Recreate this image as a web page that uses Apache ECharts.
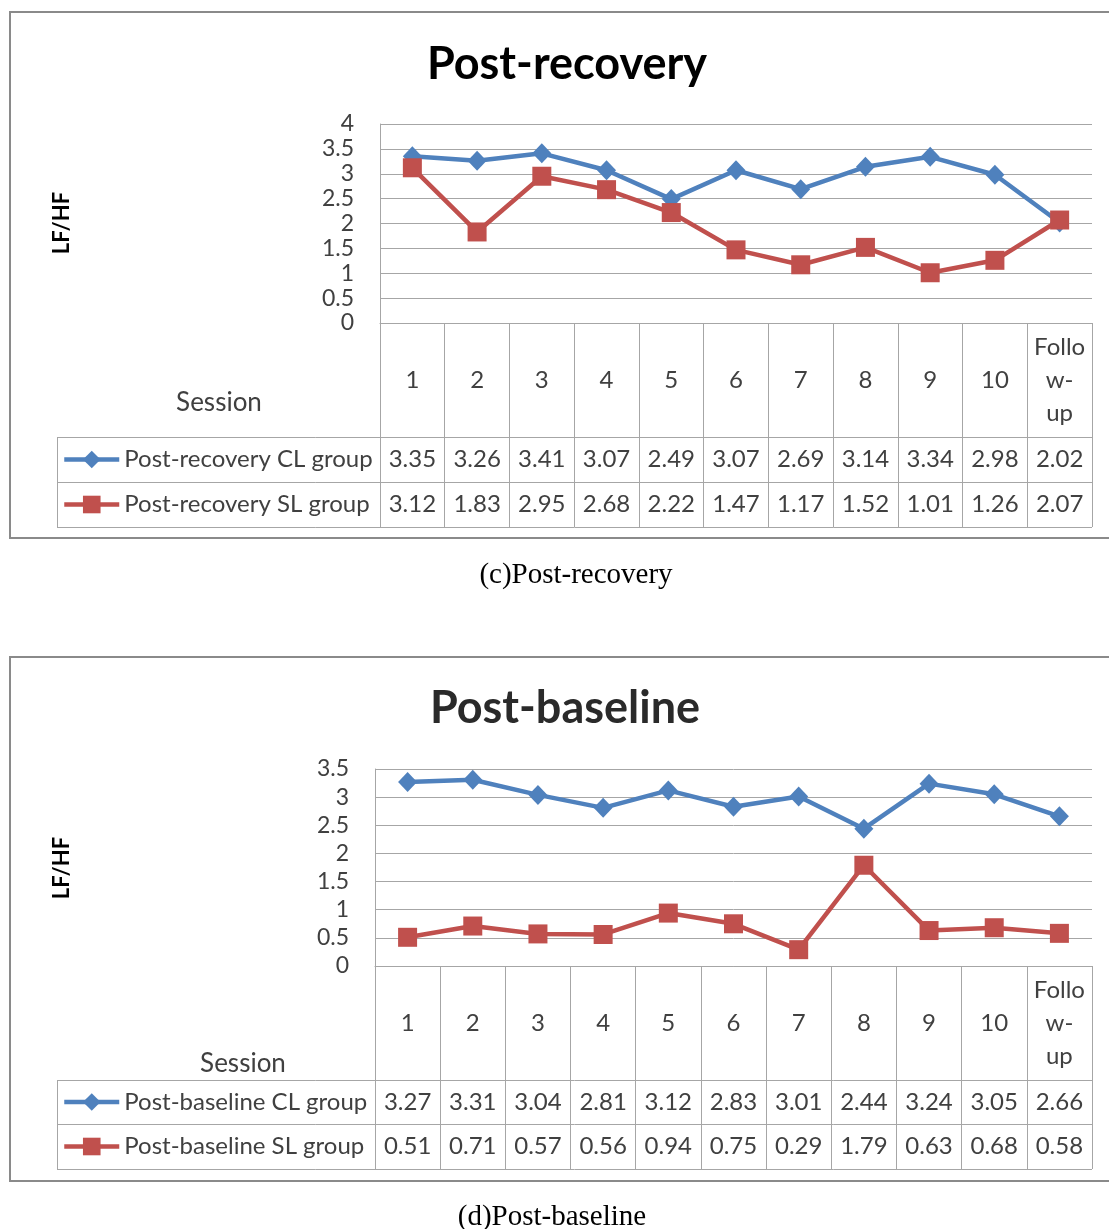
<!DOCTYPE html>
<html>
<head>
<meta charset="utf-8">
<script src="https://cdn.jsdelivr.net/npm/echarts@6/dist/echarts.min.js"></script>
<style>
  html, body { margin: 0; padding: 0; background: #fff; }
  #chart { width: 1109px; height: 1229px; }
</style>
</head>
<body>
<div id="chart"></div>
<script>
// Session categories shared by both panels
const sessions = ['1', '2', '3', '4', '5', '6', '7', '8', '9', '10', 'Follo\nw-\nup'];

// LF/HF ratio, post-recovery
const recoveryCL = [3.35, 3.26, 3.41, 3.07, 2.49, 3.07, 2.69, 3.14, 3.34, 2.98, 2.02];
const recoverySL = [3.12, 1.83, 2.95, 2.68, 2.22, 1.47, 1.17, 1.52, 1.01, 1.26, 2.07];

// LF/HF ratio, post-baseline
const baselineCL = [3.27, 3.31, 3.04, 2.81, 3.12, 2.83, 3.01, 2.44, 3.24, 3.05, 2.66];
const baselineSL = [0.51, 0.71, 0.57, 0.56, 0.94, 0.75, 0.29, 1.79, 0.63, 0.68, 0.58];

// Value-axis ranges
const recoveryAxisMax = 4;
const baselineAxisMax = 3.5;
const axisStep = 0.5;

const BLUE = '#4f81bd';
const RED = '#c0504d';
const GRID_COLOR = '#a6a6a6';
const TEXT_COLOR = '#404040';
const FONT = 'Lato';

const W = 1109;
const plotRight = 1092;
const tableLeft = 57;

const panels = [
  {
    title: 'Post-recovery', titleX: 567, titleY: 64, titleColor: '#000',
    caption: '(c)Post-recovery', captionX: 576, captionY: 575,
    frameTop: 12, frameBottom: 538,
    gridLeft: 380, gridTop: 124, gridBottom: 323,
    rows: [437, 482, 527],
    sessionX: 219, sessionY: 403, ylabelY: 223,
    max: recoveryAxisMax,
    names: ['Post-recovery CL group', 'Post-recovery SL group'],
    cl: recoveryCL, sl: recoverySL
  },
  {
    title: 'Post-baseline', titleX: 565, titleY: 708, titleColor: '#2a2a2a',
    caption: '(d)Post-baseline', captionX: 552, captionY: 1217,
    frameTop: 657, frameBottom: 1181,
    gridLeft: 375, gridTop: 769, gridBottom: 966,
    rows: [1080, 1124, 1169],
    sessionX: 243, sessionY: 1064, ylabelY: 868,
    max: baselineAxisMax,
    names: ['Post-baseline CL group', 'Post-baseline SL group'],
    cl: baselineCL, sl: baselineSL
  }
];

const grid = [], xAxis = [], yAxis = [], series = [], legend = [], graphic = [];
const fmt = v => v.toFixed(2);

panels.forEach((p, i) => {
  const bottomY = p.gridBottom;
  const rowMid0 = (p.rows[0] + p.rows[1]) / 2;
  const rowMid1 = (p.rows[1] + p.rows[2]) / 2;

  grid.push({
    left: p.gridLeft, top: p.gridTop,
    width: plotRight - p.gridLeft, height: bottomY - p.gridTop
  });

  const cellLabel = {
    interval: 0, verticalAlign: 'middle', fontFamily: FONT,
    fontSize: 24, color: TEXT_COLOR
  };

  // header row: session names; ticks extend down as the table's column rules
  xAxis.push({
    type: 'category', gridIndex: i, position: 'bottom', data: sessions,
    boundaryGap: true,
    axisLine: { lineStyle: { color: GRID_COLOR, width: 1 } },
    axisTick: { show: true, length: p.rows[2] - bottomY, lineStyle: { color: GRID_COLOR, width: 1 } },
    axisLabel: Object.assign({ margin: (p.rows[0] - bottomY) / 2, lineHeight: 33 }, cellLabel),
    splitLine: { show: false }
  });
  // data-table rows
  [p.cl, p.sl].forEach((vals, r) => {
    xAxis.push({
      type: 'category', gridIndex: i, position: 'bottom', data: vals.map(fmt),
      boundaryGap: true,
      axisLine: { show: false }, axisTick: { show: false }, splitLine: { show: false },
      axisLabel: Object.assign({ margin: (r === 0 ? rowMid0 : rowMid1) - bottomY }, cellLabel)
    });
  });

  yAxis.push({
    type: 'value', gridIndex: i, min: 0, max: p.max, interval: axisStep,
    axisLine: { show: true, lineStyle: { color: GRID_COLOR, width: 1 } },
    axisTick: { show: false },
    axisLabel: { margin: 26, fontFamily: FONT, fontSize: 23, color: TEXT_COLOR },
    splitLine: { lineStyle: { color: GRID_COLOR, width: 1 } }
  });

  const xIdx = i * 3;
  series.push({
    name: p.names[0], type: 'line', xAxisIndex: xIdx, yAxisIndex: i, data: p.cl,
    symbol: 'diamond', symbolSize: [19, 20],
    lineStyle: { color: BLUE, width: 4.5 }, itemStyle: { color: BLUE },
    emphasis: { disabled: true }, animation: false
  });
  series.push({
    name: p.names[1], type: 'line', xAxisIndex: xIdx, yAxisIndex: i, data: p.sl,
    symbol: 'rect', symbolSize: 19,
    lineStyle: { color: RED, width: 4.5 }, itemStyle: { color: RED },
    emphasis: { disabled: true }, animation: false
  });

  legend.push({
    data: p.names, orient: 'vertical', left: 62, top: rowMid0 - 12, padding: 0,
    itemWidth: 55, itemHeight: 22, itemGap: (rowMid1 - rowMid0) - 24,
    selectedMode: false,
    lineStyle: { width: 4.5 },
    textStyle: { fontFamily: FONT, fontSize: 24, color: TEXT_COLOR, lineHeight: 24 }
  });

  // outer chart frame (runs off the right edge)
  graphic.push({
    type: 'rect', silent: true,
    shape: { x: 10, y: p.frameTop, width: W + 20, height: p.frameBottom - p.frameTop },
    style: { fill: 'none', stroke: '#8a8a8a', lineWidth: 2 }
  });
  // table horizontal rules and legend-column edge
  p.rows.forEach(y => {
    graphic.push({
      type: 'line', silent: true,
      shape: { x1: tableLeft, y1: y + 0.5, x2: plotRight, y2: y + 0.5 },
      style: { stroke: GRID_COLOR, lineWidth: 1 }
    });
  });
  graphic.push({
    type: 'line', silent: true,
    shape: { x1: tableLeft + 0.5, y1: p.rows[0], x2: tableLeft + 0.5, y2: p.rows[2] },
    style: { stroke: GRID_COLOR, lineWidth: 1 }
  });
  // titles and labels
  graphic.push({
    type: 'text', silent: true, x: p.titleX, y: p.titleY,
    style: { text: p.title, fill: p.titleColor, font: `bold 45px ${FONT}`, align: 'center', verticalAlign: 'middle' }
  });
  graphic.push({
    type: 'text', silent: true, x: p.sessionX, y: p.sessionY,
    style: { text: 'Session', fill: TEXT_COLOR, font: `26px ${FONT}`, align: 'center', verticalAlign: 'middle' }
  });
  graphic.push({
    type: 'text', silent: true, x: 62, y: p.ylabelY, rotation: Math.PI / 2,
    style: { text: 'LF/HF', fill: '#000', font: `bold 22px ${FONT}`, align: 'center', verticalAlign: 'middle' }
  });
  graphic.push({
    type: 'text', silent: true, x: p.captionX, y: p.captionY,
    style: { text: p.caption, fill: '#000', font: `29px "Liberation Serif"`, align: 'center', verticalAlign: 'middle' }
  });
});

const chart = echarts.init(document.getElementById('chart'), null, { renderer: 'canvas' });
chart.setOption({
  backgroundColor: '#fff',
  animation: false,
  textStyle: { fontFamily: FONT },
  grid, xAxis, yAxis, series, legend, graphic
});
</script>
</body>
</html>
